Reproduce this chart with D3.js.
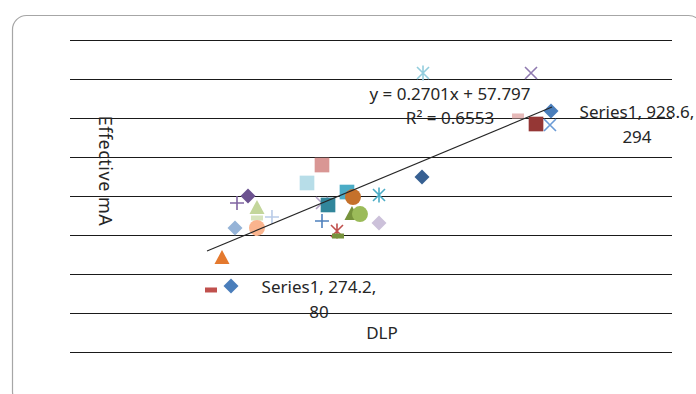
<!DOCTYPE html>
<html>
<head>
<meta charset="utf-8">
<script src="https://cdn.jsdelivr.net/npm/d3@7"></script>
<style>
  html, body { margin: 0; padding: 0; background: #fff; }
  svg { display: block; }
  text { font-family: "Noto Sans", "Open Sans", sans-serif; fill: #262626; }
</style>
</head>
<body>
<svg id="chart" width="696" height="394"></svg>
<script>
// ---- Data ----
const xValues = [267.4, 799.0, 234.2, 252.5, 274.1, 277.4, 295.7, 310.6, 310.6, 310.6, 335.5,
                 393.7, 418.6, 418.6, 428.6, 460.1, 470.1, 513.3, 418.6, 468.4, 481.7, 513.3,
                 443.5, 445.2, 586.4, 584.7, 765.8, 744.2, 774.1, 797.3];
const yValues = [84.6, 309.0, 79.5, 120.5, 159.0, 191.0, 200.0, 184.6, 171.8, 159.0, 173.1,
                 216.7, 239.7, 191.0, 188.5, 205.1, 198.7, 201.3, 167.9, 176.9, 176.9, 165.4,
                 155.1, 148.7, 357.7, 224.4, 357.7, 302.6, 292.3, 291.0];
const markerShapes = ["diamond", "diamond", "dash", "triangle", "diamond", "plus", "diamond", "triangle", "dash", "circle", "plus",
                      "square", "square", "x", "square", "square", "circle", "star", "plus", "triangle", "circle", "diamond",
                      "star", "dash", "star", "diamond", "x", "dash", "square", "x"];
const markerColors = ["#4a7ebb", "#4a7ebb", "#c0504d", "#e4792e", "#95b3d7", "#8064a2", "#6c5290", "#c3d69b", "#d7e4bd", "#fab48e", "#b9cbe8",
                      "#b7dde8", "#d99694", "#b3a2c7", "#31869b", "#4bacc6", "#c5712b", "#4bacc6", "#4f81bd", "#77933c", "#9bbb59", "#ccc1da",
                      "#c0504d", "#77933c", "#93cddd", "#376092", "#8f7ab0", "#e6b9b8", "#953735", "#6b9bd6"];
const yTicks = [0, 50, 100, 150, 200, 250, 300, 350, 400];
const trendX = [227.6, 800.7];
const trendY = [129.5, 314.1];
const equationText = "y = 0.2701x + 57.797";
const r2Text = "R\u00b2 = 0.6553";
const labelPoints = [0, 1];
const labelLines = [["Series1, 274.2,", "80"], ["Series1, 928.6,", "294"]];
const xTitle = "DLP";
const yTitle = "Effective mA";

// ---- Layout ----
const svg = d3.select("#chart");
const x = d3.scaleLinear().domain([0, 1000]).range([70, 672]);
const y = d3.scaleLinear().domain([0, 400]).range([352, 40]);

// outer chart border
svg.append("rect")
  .attr("x", 12.5).attr("y", 15.5).attr("width", 690).attr("height", 390)
  .attr("rx", 14).attr("ry", 14)
  .attr("fill", "#fff").attr("stroke", "#a6a6a6").attr("stroke-width", 1.2);

// gridlines via axis
const yAxis = d3.axisLeft(y).tickValues(yTicks).tickSize(-(672 - 70)).tickFormat("");
const gAxis = svg.append("g").attr("transform", "translate(70,0)").call(yAxis);
gAxis.select(".domain").remove();
gAxis.selectAll(".tick line").attr("stroke", "#1a1a1a").attr("stroke-width", 1.2);

// titles
svg.append("text").attr("x", 382).attr("y", 339).attr("text-anchor", "middle")
  .attr("font-size", 17).text(xTitle);
svg.append("text").attr("transform", "translate(99,171) rotate(90)").attr("text-anchor", "middle")
  .attr("font-size", 18).attr("letter-spacing", 0.5).text(yTitle);

// marker builders
function markerPath(shape) {
  switch (shape) {
    case "diamond": return "M0,-7.5L7.5,0L0,7.5L-7.5,0Z";
    case "triangle": return "M0,-8L7.5,6L-7.5,6Z";
    case "circle": return d3.symbol(d3.symbolCircle, 200)();
    case "square": return d3.symbol(d3.symbolSquare, 215)();
    case "dash": return "M-6,-2.5H6V2.5H-6Z";
    case "plus": return "M-7,0H7M0,-7V7";
    case "x": return "M-6,-6L6,6M-6,6L6,-6";
    case "star": return "M-6,-6L6,6M-6,6L6,-6M0,-7.5V7.5";
  }
}
const lineShapes = new Set(["plus", "x", "star"]);

const pts = xValues.map((v, i) => ({ x: v, y: yValues[i], shape: markerShapes[i], color: markerColors[i] }));
// draw other series first, Series1 diamonds on top at the end
const order = pts.map((d, i) => i).slice(2).concat([0, 1]);

svg.append("g").selectAll("path").data(order.map(i => pts[i])).join("path")
  .attr("transform", d => `translate(${x(d.x)},${y(d.y)})`)
  .attr("d", d => markerPath(d.shape))
  .attr("fill", d => lineShapes.has(d.shape) ? "none" : d.color)
  .attr("stroke", d => lineShapes.has(d.shape) ? d.color : "none")
  .attr("stroke-width", 1.6);

// trendline
svg.append("line")
  .attr("x1", x(trendX[0])).attr("y1", y(trendY[0]))
  .attr("x2", x(trendX[1])).attr("y2", y(trendY[1]))
  .attr("stroke", "#262626").attr("stroke-width", 1.1);

// equation
svg.append("text").attr("x", 450).attr("y", 100).attr("text-anchor", "middle")
  .attr("font-size", 17).text(equationText);
svg.append("text").attr("x", 450).attr("y", 124).attr("text-anchor", "middle")
  .attr("font-size", 17).text(r2Text);

// data labels
const labelG = svg.append("g");
const labelOffsets = [88, 86];
labelPoints.forEach((pi, k) => {
  const px = x(xValues[pi]), py = y(yValues[pi]);
  const t = labelG.append("text").attr("font-size", 17).attr("text-anchor", "middle");
  const cx = px + labelOffsets[k];
  t.append("tspan").attr("x", cx).attr("y", py + 7).text(labelLines[k][0]);
  t.append("tspan").attr("x", cx).attr("y", py + 32).text(labelLines[k][1]);
});
</script>
</body>
</html>
